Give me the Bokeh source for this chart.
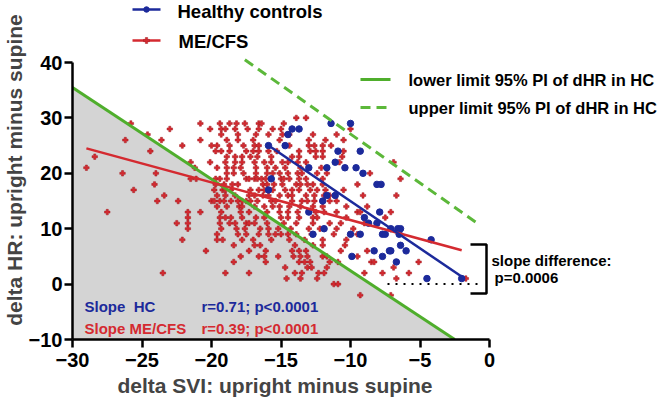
from bokeh.plotting import figure
from bokeh.models import Label, FixedTicker, Range1d, Title
from bokeh.embed import file_html
from bokeh.resources import INLINE

# ---------------- data ----------------
x_ticks = [-30, -25, -20, -15, -10, -5, 0]
y_ticks = [-10, 0, 10, 20, 30, 40]

# ME/CFS patients: delta SVI (x) and delta HR (y)
me_svi = [
    -13.9, -13.2,
    -25.8, -20.8, -19.4, -18.7, -18.2, -17.6, -16.6, -16.4, -14.8,
    -23.0, -20.1, -19.3, -19.0, -18.3, -17.4, -16.6, -15.6, -15.0, -14.2, -10.0,
    -24.6, -19.3, -18.1, -16.8, -15.9, -14.9, -14.4, -12.7, -11.0,
    -26.2, -23.6, -20.8, -18.9, -18.1, -17.0, -15.1, -13.0, -11.8, -10.5,
    -22.1, -20.0, -19.6, -18.7, -17.7, -16.9, -16.6, -14.4, -13.0, -12.6, -12.0, -11.4,
    -24.4, -19.7, -19.3, -18.7, -17.5, -17.0, -16.6, -15.9, -15.3, -13.7, -12.9, -12.5, -12.0, -10.5,
    -28.4, -18.9, -18.3, -17.8, -17.2, -16.7, -15.7, -14.2, -13.7, -12.5, -12.0, -10.6,
    -21.5, -20.1, -19.0, -18.3, -17.8, -16.9, -16.2, -15.7, -14.9, -14.5, -13.8, -13.2, -10.8, -6.9,
    -29.0, -21.2, -19.6, -18.9, -18.4, -17.9, -16.8, -16.0, -15.4, -14.7, -13.6, -12.1,
    -26.4, -24.0, -18.9, -18.4, -17.7, -16.8, -16.0, -15.6, -15.1, -14.5, -13.8, -13.5, -12.4, -11.7, -8.6,
    -21.5, -21.1, -19.7, -19.4, -18.9, -17.5, -17.3, -16.9, -16.7, -16.4, -16.1, -15.0, -14.8, -14.4, -13.7, -13.2, -12.0, -6.4,
    -24.1, -19.7, -19.1, -18.5, -18.1, -16.3, -16.0, -15.5, -14.9, -13.9, -13.6, -13.1, -12.7, -12.0, -9.5,
    -25.6, -19.8, -19.2, -19.0, -18.6, -17.2, -16.6, -16.2, -15.6, -14.7, -14.2, -13.7, -12.9, -12.4, -11.8, -10.5,
    -23.4, -19.6, -19.0, -18.3, -17.3, -16.9, -16.3, -15.9, -15.1, -14.5, -14.2, -13.2, -12.6, -11.9, -11.5, -9.1, -6.7,
    -23.9, -22.4, -20.0, -19.8, -19.4, -19.1, -18.6, -18.1, -17.8, -17.5, -17.2, -16.7, -15.7, -15.4, -14.2, -13.5, -13.1, -12.6, -11.5, -11.0,
    -19.6, -18.9, -18.0, -17.8, -16.9, -16.2, -15.6, -15.1, -14.4, -13.6, -12.7, -12.0, -10.3, -8.8,
    -27.5, -21.7, -20.8, -19.3, -17.9, -17.3, -16.0, -15.1, -14.5, -13.8, -12.5, -11.9, -11.0, -9.5, -9.3, -7.1,
    -21.7, -19.4, -19.0, -18.6, -17.8, -16.8, -16.2, -15.0, -14.5, -13.7, -12.7, -12.4, -10.3, -7.5,
    -22.5, -21.7, -19.4, -18.7, -18.3, -17.5, -17.3, -16.9, -16.0, -14.8, -13.9, -12.7, -11.5, -10.7, -9.0,
    -21.7, -19.3, -18.2, -17.6, -16.5, -15.9, -15.2, -14.3, -13.0, -12.2, -11.0, -9.8,
    -19.6, -18.1, -17.5, -16.6, -15.9, -15.4, -15.0, -14.5, -13.9, -12.8, -11.2, -9.5,
    -22.1, -19.6, -19.2, -17.8, -17.0, -15.7, -14.4, -13.3, -12.0, -10.3,
    -18.4, -16.9, -16.5, -14.0, -12.7, -12.0, -10.4,
    -20.4, -17.3, -16.1, -14.2, -13.7, -13.2, -10.7, -8.8,
    -17.9, -16.6, -16.2, -15.2, -14.1, -13.6, -13.1, -12.0, -11.7, -9.5,
    -18.4, -16.1, -13.7, -13.3, -12.9, -11.5, -10.9, -8.5, -8.3, -5.1,
    -14.7, -13.1, -12.8, -11.7, -6.9,
    -23.5, -19.0, -17.3, -14.0, -13.5, -12.3, -11.9, -9.0, -7.7, -5.8,
    -14.6, -13.6, -12.4, -6.7, -1.7,
    -11.2, -10.9,
    -9.3, -7.1,
]
me_hr = [
    30, 30,
    29, 29, 29, 29, 29, 29, 29, 29, 29,
    28, 28, 28, 28, 28, 28, 28, 28, 28, 28, 28,
    27, 27, 27, 27, 27, 27, 27, 27, 27,
    26, 26, 26, 26, 26, 26, 26, 26, 26, 26,
    25, 25, 25, 25, 25, 25, 25, 25, 25, 25, 25, 25,
    24, 24, 24, 24, 24, 24, 24, 24, 24, 24, 24, 24, 24, 24,
    23, 23, 23, 23, 23, 23, 23, 23, 23, 23, 23, 23,
    22, 22, 22, 22, 22, 22, 22, 22, 22, 22, 22, 22, 22, 22,
    21, 21, 21, 21, 21, 21, 21, 21, 21, 21, 21, 21,
    20, 20, 20, 20, 20, 20, 20, 20, 20, 20, 20, 20, 20, 20, 20,
    19, 19, 19, 19, 19, 19, 19, 19, 19, 19, 19, 19, 19, 19, 19, 19, 19, 19,
    18, 18, 18, 18, 18, 18, 18, 18, 18, 18, 18, 18, 18, 18, 18,
    17, 17, 17, 17, 17, 17, 17, 17, 17, 17, 17, 17, 17, 17, 17, 17,
    16, 16, 16, 16, 16, 16, 16, 16, 16, 16, 16, 16, 16, 16, 16, 16, 16,
    15, 15, 15, 15, 15, 15, 15, 15, 15, 15, 15, 15, 15, 15, 15, 15, 15, 15, 15, 15,
    14, 14, 14, 14, 14, 14, 14, 14, 14, 14, 14, 14, 14, 14,
    13, 13, 13, 13, 13, 13, 13, 13, 13, 13, 13, 13, 13, 13, 13, 13,
    12, 12, 12, 12, 12, 12, 12, 12, 12, 12, 12, 12, 12, 12,
    11, 11, 11, 11, 11, 11, 11, 11, 11, 11, 11, 11, 11, 11, 11,
    10, 10, 10, 10, 10, 10, 10, 10, 10, 10, 10, 10,
    9, 9, 9, 9, 9, 9, 9, 9, 9, 9, 9, 9,
    8, 8, 8, 8, 8, 8, 8, 8, 8, 8,
    7, 7, 7, 7, 7, 7, 7,
    6, 6, 6, 6, 6, 6, 6, 6,
    5, 5, 5, 5, 5, 5, 5, 5, 5, 5,
    4, 4, 4, 4, 4, 4, 4, 4, 4, 4,
    3, 3, 3, 3, 3,
    2, 2, 2, 2, 2, 2, 2, 2, 2, 2,
    1, 1, 1, 1, 1,
    0, 0,
    -2, -2,
]

# Healthy controls
hc_svi = [-15.9, -14.7, -14.5, -14.2, -13.7, -11.4, -10.0,
          -10.9, -9.3, -11.1, -13.0, -11.7, -10.4, -9.6, -9.1,
          -15.7, -8.1, -7.8, -15.9, -11.7, -11.1, -12.0,
          -13.0, -7.9, -9.0, -8.7, -8.1,
          -11.9, -7.1, -6.6, -6.4,
          -12.7, -10.0, -9.3, -7.7, -7.5, -6.5,
          -4.2, -6.4, -8.3, -7.2, -7.1, -6.0, -9.9, -7.7, -6.7,
          -4.5, -2.0]
hc_hr = [25, 25, 27, 28, 28, 29, 29,
         24, 24, 22, 21, 21, 21, 21, 20,
         19, 18, 18, 17, 16, 16, 15,
         13, 13, 12, 11, 11,
         10, 10, 10, 10,
         9, 9, 9, 9, 9, 9,
         8, 7, 6, 6, 6, 6, 5, 5, 4,
         1, 1]

# regression lines and 95% prediction-interval limits (end points)
hc_fit_x = [-16.0, -1.8]
hc_fit_y = [25.2, 1.0]
me_fit_x = [-29.0, -2.0]
me_fit_y = [24.5, 6.1]
pi_lower_x = [-30.0, -2.5]
pi_lower_y = [35.5, -10.0]
pi_upper_x = [-17.6, -1.0]
pi_upper_y = [40.5, 11.2]

# ---------------- styling ----------------
BLUE = "#1c2a9b"
RED = "#d42a30"
DARKRED = "#a3181f"
GREEN = "#4fae2c"
GREEN2 = "#5cb83a"
GRAY = "#d4d4d4"
FONT = "Liberation Sans"

PXX = 13.9   # pixels per x unit
PXY = 5.54   # pixels per y unit
LEFT, BOTTOM = 70, 339       # frame left / bottom in page pixels
W, H = 662, 402
FW, FH = W - LEFT, BOTTOM
x0, y0 = -30.0, -10.0
x1 = x0 + FW / PXX
y1 = y0 + FH / PXY


def dx(px):  # page pixel -> data x
    return -30 + (px - 70) / PXX


def dy(py):  # page pixel -> data y
    return 40 - (py - 62) / PXY


p = figure(frame_width=FW, frame_height=FH,
           x_range=Range1d(x0, x1), y_range=Range1d(y0, y1),
           output_backend="svg", toolbar_location=None,
           min_border_left=LEFT, min_border_right=0,
           min_border_top=0, min_border_bottom=H - BOTTOM)
p.outline_line_color = None
p.grid.visible = False
p.background_fill_color = "white"

for ax in (p.xaxis[0], p.yaxis[0]):
    ax.axis_line_width = 2.5
    ax.major_tick_line_width = 2.5
    ax.major_tick_out = 8
    ax.major_tick_in = 0
    ax.minor_tick_line_color = None
    ax.major_label_text_font = FONT
    ax.major_label_text_font_style = "bold"
    ax.major_label_text_font_size = "20px"
    ax.major_label_text_color = "black"
    ax.axis_line_color = "black"
    ax.major_tick_line_color = "black"

p.xaxis.bounds = (-30, 0)
p.yaxis.bounds = (-10, 40)
p.xaxis.ticker = FixedTicker(ticks=x_ticks)
p.yaxis.ticker = FixedTicker(ticks=y_ticks)
p.xaxis.major_label_standoff = 5
p.yaxis.major_label_standoff = 2

# axis titles as side-panel titles
p.add_layout(Title(text="delta SVI: upright minus supine", align="left",
                   offset=45, text_font=FONT, text_font_style="bold",
                   text_font_size="21px", standoff=4), "below")
p.add_layout(Title(text="delta HR: upright minus supine", align="center",
                   offset=-28, text_font=FONT, text_font_style="bold",
                   text_font_size="21px", standoff=0), "left")

# gray region below lower PI limit
p.patch([pi_lower_x[0], pi_lower_x[0], pi_lower_x[1]],
        [pi_lower_y[1], pi_lower_y[0], pi_lower_y[1]],
        fill_color=GRAY, line_color=None)

# scatter
p.scatter(me_svi, me_hr, marker="plus", size=5.5, fill_color=RED,
          line_color=DARKRED, line_width=0.5)
p.scatter(hc_svi, hc_hr, marker="circle", size=6.5, fill_color=BLUE,
          line_color=BLUE)

# PI lines
p.line(pi_lower_x, pi_lower_y, line_color=GREEN, line_width=3)
p.line(pi_upper_x, pi_upper_y, line_color=GREEN2, line_width=3,
       line_dash="10 6")

# regression lines
p.line(me_fit_x, me_fit_y, line_color=RED, line_width=2.5)
p.line(hc_fit_x, hc_fit_y, line_color=BLUE, line_width=2.5)

# dotted zero line and bracket
p.line([dx(385), dx(481)], [0, 0], line_color="black", line_width=2,
       line_dash="2 6")
p.line([dx(468), dx(484), dx(484), dx(468)],
       [dy(244), dy(244), dy(293), dy(293)],
       line_color="black", line_width=2.5)

# top legend
p.line([dx(130), dx(158)], [dy(9), dy(9)], line_color=BLUE, line_width=2.5)
p.scatter([dx(144)], [dy(9)], marker="circle", size=5.5, fill_color=BLUE,
          line_color=BLUE)
p.line([dx(130), dx(158)], [dy(40), dy(40)], line_color=RED, line_width=2.5)
p.scatter([dx(144)], [dy(40)], marker="plus", size=6, fill_color=RED,
          line_color=DARKRED, line_width=0.5)

# PI legend
p.line([dx(358), dx(388)], [dy(79), dy(79)], line_color=GREEN, line_width=3)
p.line([dx(358), dx(390)], [dy(107), dy(107)], line_color=GREEN2,
       line_width=3, line_dash="10 6")


def lab(x, y, text, size, color="black", align="left"):
    p.add_layout(Label(x=x, y=y, text=text, text_font=FONT,
                       text_font_style="bold", text_font_size=size,
                       text_color=color, text_align=align,
                       text_baseline="middle"))


lab(dx(175), dy(11), "Healthy controls", "18.5px")
lab(dx(176), dy(41), "ME/CFS", "18.5px")
lab(dx(406), dy(79), "lower limit 95% PI of dHR in HC", "16.5px")
lab(dx(406), dy(107), "upper limit 95% PI of dHR in HC", "16.5px")

lab(dx(489), dy(260), "slope difference:", "15px")
lab(dx(492), dy(277), "p=0.0006", "15px")

lab(dx(82), dy(306), "Slope\u00a0\u00a0HC", "15px", BLUE)
lab(dx(199), dy(306), "r=0.71; p<0.0001", "15px", BLUE)
lab(dx(82), dy(328), "Slope ME/CFS", "15px", RED)
lab(dx(199), dy(328), "r=0.39; p<0.0001", "15px", RED)

open("out.html", "w").write(file_html(p, INLINE))
